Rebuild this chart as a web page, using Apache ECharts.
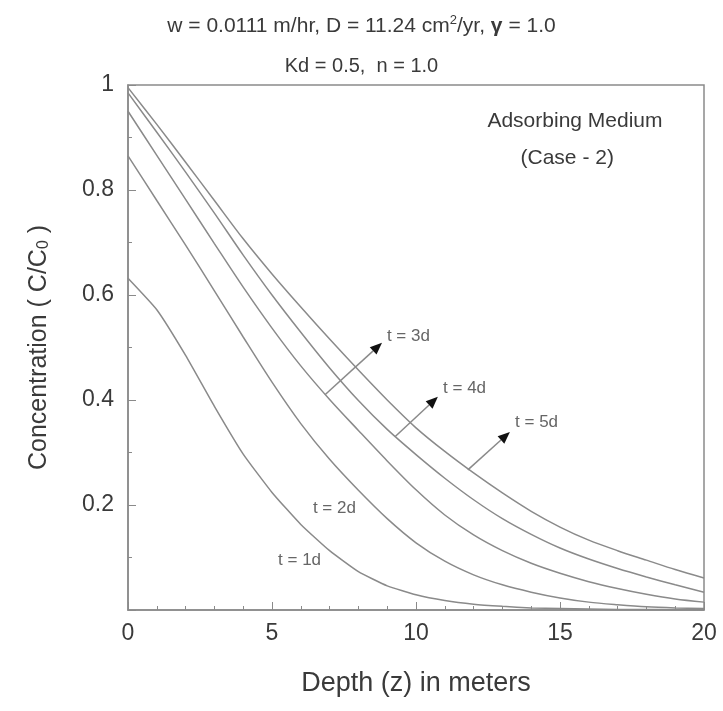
<!DOCTYPE html>
<html>
<head>
<meta charset="utf-8">
<script src="https://cdn.jsdelivr.net/npm/echarts@6/dist/echarts.min.js"></script>
<style>html,body{margin:0;padding:0;background:#fff}#c{width:723px;height:711px}</style>
</head>
<body>
<div id="c"></div>
<script>
const depth = [0,1,2,3,4,5,6,7,8,9,10,11,12,13,14,15,16,17,18,19,20];
const c1d = [0.632,0.572,0.485,0.388,0.297,0.224,0.163,0.113,0.073,0.046,0.029,0.018,0.011,0.007,0.004,0.003,0.002,0.001,0.001,0.0005,0];
const c2d = [0.865,0.780,0.695,0.608,0.520,0.434,0.355,0.287,0.228,0.174,0.128,0.093,0.067,0.048,0.034,0.023,0.015,0.010,0.006,0.004,0.003];
const c3d = [0.950,0.866,0.782,0.698,0.615,0.537,0.465,0.401,0.342,0.284,0.229,0.181,0.143,0.113,0.089,0.070,0.054,0.041,0.030,0.021,0.015];
const c4d = [0.985,0.910,0.834,0.756,0.676,0.600,0.529,0.461,0.399,0.344,0.296,0.251,0.210,0.174,0.144,0.118,0.097,0.079,0.063,0.048,0.034];
const c5d = [0.995,0.925,0.853,0.780,0.707,0.640,0.577,0.516,0.457,0.400,0.347,0.302,0.261,0.223,0.188,0.158,0.133,0.113,0.095,0.077,0.061];
const seriesNames = ['t = 1d','t = 2d','t = 3d','t = 4d','t = 5d'];
const seriesValues = [c1d,c2d,c3d,c4d,c5d];
const xTicks = [0,5,10,15,20];
const yTicks = [0.2,0.4,0.6,0.8,1];

const FONT = 'Liberation Sans';
const LINE = '#8a8a8a';
const TXT = '#3a3a3a';

const chart = echarts.init(document.getElementById('c'));
chart.setOption({
  animation:false,
  backgroundColor:'#fff',
  textStyle:{fontFamily:FONT},
  title:[
    {left:'center', top:9, text:'{a|w = 0.0111 m/hr, D = 11.24 cm}{sup|2}{a|/yr, }{g|γ}{a| = 1.0}',
     textStyle:{fontWeight:'normal',rich:{a:{fontSize:21,color:TXT,fontFamily:FONT,fontWeight:'normal'},
       sup:{fontSize:13,color:TXT,fontFamily:FONT,fontWeight:'normal',padding:[0,0,12,0]},
       g:{fontSize:21,color:TXT,fontWeight:'bold',fontFamily:FONT}}}},
    {left:'center', top:51, text:'Kd = 0.5,  n = 1.0', textStyle:{fontSize:20,color:TXT,fontWeight:'normal',fontFamily:FONT}}
  ],
  grid:{left:128,right:19,top:85,bottom:101,show:true,borderColor:LINE,borderWidth:1.5},
  xAxis:{type:'value',min:0,max:20,interval:5,
    name:'Depth (z) in meters',nameLocation:'middle',nameGap:60,
    nameTextStyle:{fontSize:27,color:TXT,fontFamily:FONT},
    axisLine:{lineStyle:{color:LINE,width:1.5}},
    axisTick:{inside:true,length:8,lineStyle:{color:LINE}},
    minorTick:{show:true,splitNumber:5,length:4,lineStyle:{color:LINE}},
    splitLine:{show:false},
    axisLabel:{fontSize:23,color:TXT,margin:12,fontFamily:FONT,
      formatter:v=>xTicks.includes(v)?String(v):''}},
  yAxis:{type:'value',min:0,max:1,interval:0.2,
    name:'{a|Concentration ( C/C}{sub|0}{a| )}',nameLocation:'middle',nameGap:76,
    nameTextStyle:{rich:{a:{fontSize:25,color:TXT,fontFamily:FONT},sub:{fontSize:16,color:TXT,fontFamily:FONT,padding:[10,0,0,0]}}},
    axisLine:{lineStyle:{color:LINE,width:1.5}},
    axisTick:{inside:true,length:8,lineStyle:{color:LINE}},
    minorTick:{show:true,splitNumber:2,length:4,lineStyle:{color:LINE}},
    splitLine:{show:false},
    axisLabel:{fontSize:23,color:TXT,margin:14,fontFamily:FONT,
      formatter:v=>{const r=Math.round(v*10)/10; return yTicks.some(t=>Math.abs(t-r)<1e-6)?String(r):'';}}},
  series:seriesValues.map((vals,i)=>({
    name:seriesNames[i],type:'line',showSymbol:false,smooth:i===0?0.15:0.3,
    lineStyle:{color:LINE,width:1.5},
    data:depth.map((z,j)=>[z,vals[j]])
  }))
});

// annotations in data coordinates
const arrows = [
  {from:[6.84,0.410],to:[8.82,0.509]},
  {from:[9.27,0.330],to:[10.76,0.406]},
  {from:[11.80,0.267],to:[13.26,0.339]}
];
const labels = [
  {at:[5.21,0.095],text:'t = 1d'},
  {at:[6.42,0.194],text:'t = 2d'},
  {at:[8.99,0.522],text:'t = 3d'},
  {at:[10.94,0.423],text:'t = 4d'},
  {at:[13.44,0.358],text:'t = 5d'}
];
const g = [];
arrows.forEach(a=>{
  const p0 = chart.convertToPixel({gridIndex:0},a.from);
  const p1 = chart.convertToPixel({gridIndex:0},a.to);
  const dx=p1[0]-p0[0], dy=p1[1]-p0[1], L=Math.hypot(dx,dy), ux=dx/L, uy=dy/L;
  const hl=12, hw=5;
  const bx=p1[0]-ux*hl, by=p1[1]-uy*hl;
  g.push({type:'line',shape:{x1:p0[0],y1:p0[1],x2:bx,y2:by},style:{stroke:LINE,lineWidth:1.5}});
  g.push({type:'polygon',shape:{points:[[p1[0],p1[1]],[bx-uy*hw,by+ux*hw],[bx+uy*hw,by-ux*hw]]},style:{fill:'#111'}});
});
labels.forEach(l=>{
  const p = chart.convertToPixel({gridIndex:0},l.at);
  g.push({type:'text',x:p[0],y:p[1],style:{text:l.text,fontSize:17,fill:'#666',fontFamily:FONT,verticalAlign:'middle'}});
});
const boxText = [
  {at:[15.52,0.931],text:'Adsorbing Medium'},
  {at:[15.25,0.860],text:'(Case - 2)'}
];
boxText.forEach(l=>{
  const p = chart.convertToPixel({gridIndex:0},l.at);
  g.push({type:'text',x:p[0],y:p[1],style:{text:l.text,fontSize:21,fill:TXT,fontFamily:FONT,verticalAlign:'middle',align:'center'}});
});
chart.setOption({graphic:g});
</script>
</body>
</html>
